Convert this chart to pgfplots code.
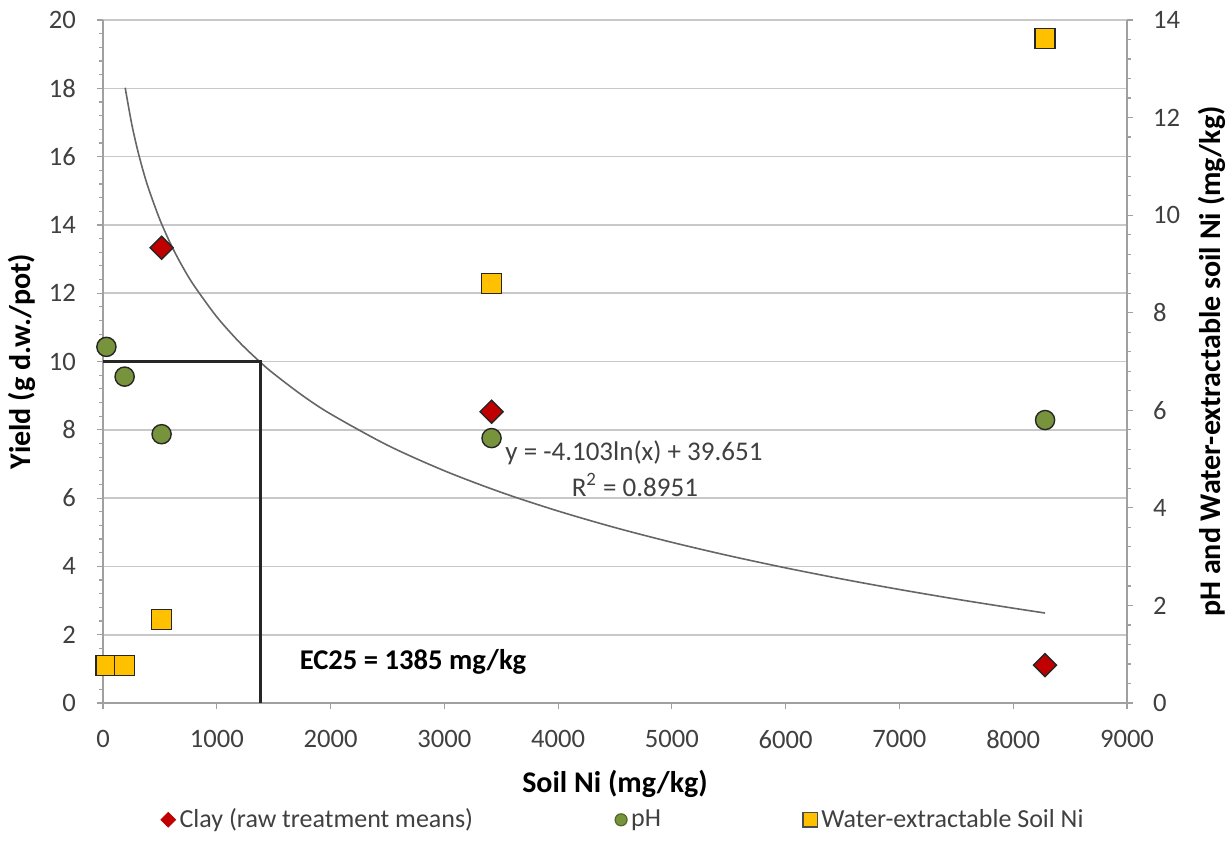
\documentclass[border=0pt]{standalone}
\usepackage{fontspec}
\setmainfont{Carlito}
\usepackage{pgfplots}
\pgfplotsset{compat=1.18}
\definecolor{clayred}{HTML}{C00000}
\definecolor{phgreen}{HTML}{77933C}
\definecolor{wyellow}{HTML}{FFC000}
\definecolor{gridgray}{HTML}{C8C8C8}
\definecolor{axgray}{HTML}{A0A0A0}
\definecolor{txt}{HTML}{404040}
\begin{document}
\begin{tikzpicture}
\pgfplotsset{
  common/.style={
    scale only axis, width=512pt, height=341.5pt,
    at={(0,0)}, anchor=south west,
    xmin=0, xmax=9000,
    /pgf/number format/assume math mode=true,
    ticklabel style={font=\fontsize{13.3}{15}\selectfont, text=txt},
    label style={font=\fontsize{15}{18}\selectfont\bfseries},
    axis line style={axgray, line width=0.7pt},
    tick style={axgray, line width=0.6pt},
    tick align=outside,
    major tick length=3pt, minor tick length=2pt,
  }
}
\begin{axis}[common,
  axis x line*=bottom, axis y line*=left,
  ymin=0, ymax=20,
  xtick={0,1000,...,9000},
  ytick={0,2,...,20},
  minor y tick num=4,
  /pgf/number format/1000 sep={},
  ymajorgrids, grid style={gridgray, line width=0.8pt},
  xlabel={Soil Ni (mg/kg)},
  ylabel={Yield (g d.w./pot)},
  xticklabel style={yshift=-7pt},
  yticklabel style={xshift=-7pt},
  xlabel style={yshift=-4pt},
  clip=false,
]
% trendline (logarithmic fit y = -4.103 ln x + 39.651)
\addplot[gray!80!black, line width=0.8pt, smooth] coordinates {
(195,18.016) (250,16.996) (300,16.248) (350,15.616) (400,15.068) (500,14.152)
(600,13.404) (700,12.772) (800,12.224) (1000,11.308) (1200,10.560) (1385,9.972)
(1500,9.645) (1750,9.012) (2000,8.464) (2500,7.549) (3000,6.801) (3500,6.168)
(4000,5.621) (4500,5.137) (5000,4.705) (5500,4.314) (6000,3.957) (6500,3.628)
(7000,3.324) (7500,3.041) (8000,2.777) (8280,2.635)};
% EC25 lines
\addplot[black!85, line width=1.3pt] coordinates {(0,10) (1385,10) (1385,0)};
% Clay
\addplot[only marks, mark=square*, mark size=4.07pt,
  mark options={rotate=45, fill=clayred, draw=black!85, line width=0.7pt}]
  coordinates {(515,13.33) (3415,8.53) (8280,1.11)};
\node[font=\fontsize{13.5}{16}\selectfont, text=txt] at (axis cs:4667,7.32) {y = -4.103ln(x) + 39.651};
\node[font=\fontsize{13.5}{16}\selectfont, text=txt] at (axis cs:4675,6.38) {R\textsuperscript{2} = 0.8951};
\node[font=\fontsize{14.3}{17}\selectfont\bfseries] at (axis cs:2725,1.21) {EC25 = 1385 mg/kg};
\end{axis}
\begin{axis}[common,
  axis x line=none, axis y line*=right,
  ymin=0, ymax=14,
  ytick={0,2,...,14},
  minor y tick num=4,
  ylabel={pH and Water-extractable soil Ni (mg/kg)},
  yticklabel style={xshift=6.5pt},
  ylabel style={yshift=-2pt},
  legend style={at={(0.509,-0.171)}, anchor=center, draw=none, fill=none,
    legend columns=3, font=\fontsize{13}{15}\selectfont, text=txt,
    /tikz/every even column/.append style={column sep=69pt},
    legend cell align=left},
]
\addlegendimage{only marks, mark=square*, mark size=2.6pt,
  mark options={rotate=45, fill=clayred, draw=clayred}}
\addlegendentry{Clay (raw treatment means)}
\addplot[only marks, mark=*, mark size=4.8pt,
  mark options={fill=phgreen, draw=black!85, line width=0.7pt},
  legend image post style={mark size=3pt, mark options={fill=phgreen, draw=phgreen!70!black, line width=0.6pt}}]
  coordinates {(30,7.30) (190,6.69) (515,5.51) (3415,5.43) (8280,5.80)};
\addlegendentry{pH}
\addplot[only marks, mark=square*, mark size=5pt,
  mark options={fill=wyellow, draw=black!85, line width=0.7pt},
  legend image post style={mark size=3.6pt, mark options={fill=wyellow, draw=black!70, line width=0.6pt}}]
  coordinates {(25,0.77) (190,0.77) (515,1.71) (3415,8.60) (8280,13.62)};
\addlegendentry{Water-extractable Soil Ni}
\end{axis}
\pgfresetboundingbox
\path (-51.5pt,-74.5pt) rectangle (564pt,351.5pt);
\end{tikzpicture}
\end{document}
